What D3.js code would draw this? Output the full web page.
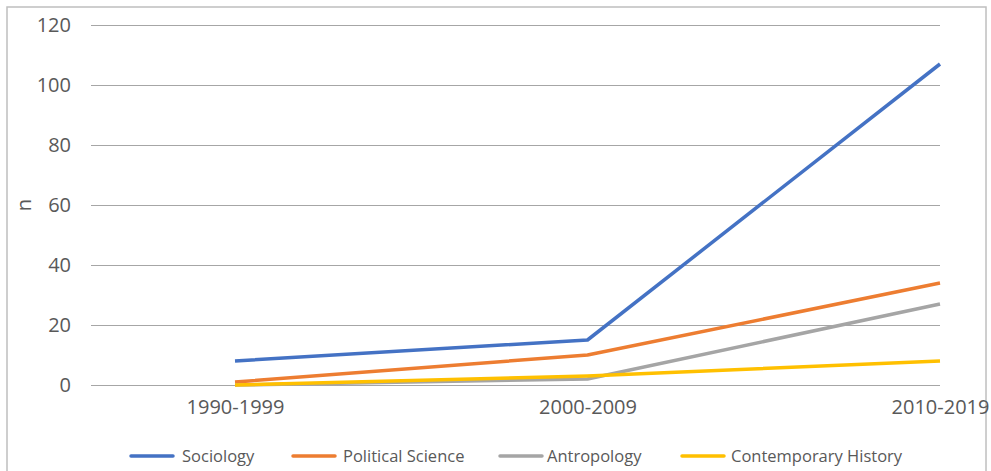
<!DOCTYPE html>
<html><head><meta charset="utf-8">
<script src="https://cdn.jsdelivr.net/npm/d3@7"></script>
<style>body{margin:0;background:#fff}svg{display:block}svg text{font-family:"Open Sans","Noto Sans",sans-serif}</style>
</head><body><svg id="c" width="991" height="471"></svg>
<script>
const categories = ["1990-1999", "2000-2009", "2010-2019"];
const seriesNames = ["Sociology", "Political Science", "Antropology", "Contemporary History"];
const sociology = [8, 15, 107];
const politicalScience = [1, 10, 34];
const antropology = [0, 2, 27];
const contemporaryHistory = [0, 3, 8];
const yTicks = [0, 20, 40, 60, 80, 100, 120];
const colors = ["#4472C4", "#ED7D31", "#A5A5A5", "#FFC000"];
const seriesValues = [sociology, politicalScience, antropology, contemporaryHistory];

const svg = d3.select("#c");
svg.append("rect").attr("x", 7).attr("y", 7).attr("width", 979).attr("height", 480)
  .attr("fill", "none").attr("stroke", "#bfbfbf").attr("stroke-width", 1.5);

const gridLeft = 91, gridRight = 940;
const x = d3.scalePoint().domain(categories).range([235, 940]);
const y = d3.scaleLinear().domain([0, 120]).range([385, 25]);

const grid = svg.append("g");
grid.selectAll("line").data(yTicks).join("line")
  .attr("x1", gridLeft).attr("x2", gridRight)
  .attr("y1", d => Math.round(y(d)) + 0.5).attr("y2", d => Math.round(y(d)) + 0.5)
  .attr("stroke", "#a6a6a6").attr("stroke-width", 1);

const yAxis = svg.append("g").attr("transform", `translate(${gridLeft},0)`)
  .call(d3.axisLeft(y).tickValues(yTicks).tickSize(0).tickPadding(20));
yAxis.attr("font-family", null).attr("font-size", null);
yAxis.select(".domain").remove();
yAxis.selectAll("text").attr("font-size", 20).attr("fill", "#595959");

const xAxis = svg.append("g").attr("transform", `translate(0,385)`)
  .call(d3.axisBottom(x).tickSize(0).tickPadding(15));
xAxis.attr("font-family", null).attr("font-size", null);
xAxis.select(".domain").remove();
xAxis.selectAll("text").attr("font-size", 20).attr("fill", "#595959");

svg.append("text").attr("transform", "translate(31,205) rotate(-90)")
  .attr("text-anchor", "middle").attr("font-size", 20).attr("fill", "#595959").text("n");

const line = d3.line().x((d, i) => x(categories[i])).y(d => y(d));
seriesValues.forEach((vals, i) => {
  svg.append("path").datum(vals).attr("d", line).attr("fill", "none")
    .attr("stroke", colors[i]).attr("stroke-width", 3.5).attr("stroke-linejoin", "round");
});

const legendX = [131, 293, 500, 682];
const legendTextX = [182, 343, 547, 731];
const leg = svg.append("g");
seriesNames.forEach((n, i) => {
  leg.append("line").attr("x1", legendX[i]).attr("x2", legendX[i] + 42)
    .attr("y1", 456).attr("y2", 456).attr("stroke", colors[i]).attr("stroke-width", 3.5)
    .attr("stroke-linecap", "round");
  leg.append("text").attr("x", legendTextX[i]).attr("y", 461.5)
    .attr("font-size", 16.5).attr("fill", "#595959").text(n);
});
</script></body></html>
